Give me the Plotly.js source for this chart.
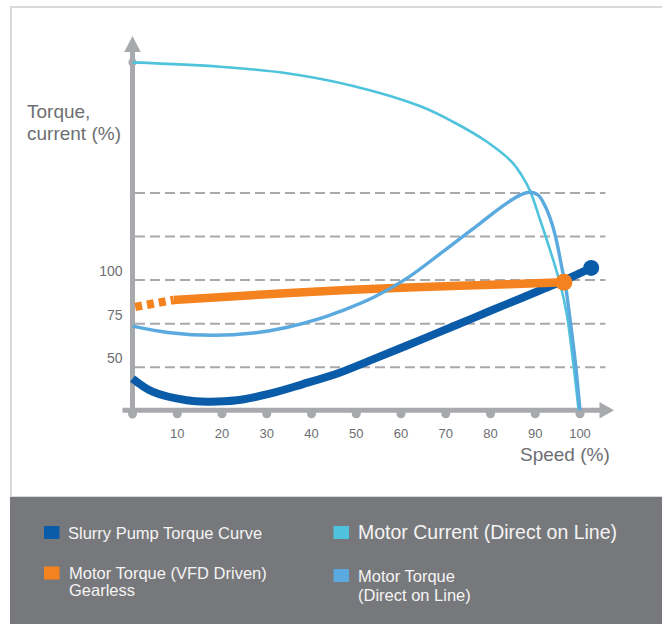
<!DOCTYPE html>
<html>
<head>
<meta charset="utf-8">
<script src="https://cdn.plot.ly/plotly-3.0.1.min.js"></script>
<style>
  html, body { margin: 0; padding: 0; background: #ffffff; }
  #chart { width: 662px; height: 624px; }
</style>
</head>
<body>
<div id="chart"></div>
<script>
// ---------------- DATA ----------------
const speedTicks = [10, 20, 30, 40, 50, 60, 70, 80, 90, 100];
const speedTickLabels = ['10', '20', '30', '40', '50', '60', '70', '80', '90', '100'];
const torqueTicks = [50, 75, 100];
const torqueTickLabels = ['50', '75', '100'];
const gridLevels = [50, 75, 100, 125, 150];
const axisDotSpeeds = [0, 10, 20, 30, 40, 50, 60, 70, 80, 90, 100];

// Slurry Pump Torque Curve
const slurrySpeed = [0, 4.6, 12.1, 16.6, 23.3, 30.7, 38.1, 46.4, 53.7, 61.2, 68.7, 76.1, 83.6, 91.0, 96.1, 102.5];
const slurryTorque = [43.5, 35.8, 31.0, 30.2, 31.0, 34.8, 40.3, 47.0, 54.5, 62.3, 70.3, 78.2, 86.2, 94.0, 99.4, 107.0];

// Motor Torque (VFD Driven) Gearless
const vfdStartSpeed = [0.6, 9.2];
const vfdStartTorque = [84.6, 88.6];
const vfdSpeed = [9.2, 36.1, 60.0, 84.0, 96.4];
const vfdTorque = [88.6, 92.8, 95.6, 97.6, 98.7];

// Motor Current (Direct on Line)
const currentSpeed = [0, 19.6, 34.5, 49.3, 64.2, 71.6, 79.2, 85.0, 87.0, 88.8, 91.1, 93.3, 95.5, 97.0, 98.4, 99.7];
const currentValue = [225.0, 222.5, 218.7, 211.4, 199.9, 190.9, 179.4, 167.2, 160.0, 151.5, 134.5, 117.3, 98.5, 81.1, 54.2, 25.3];

// Motor Torque (Direct on Line)
const dolSpeed = [0, 8.4, 18.0, 27.0, 34.4, 42.0, 46.4, 53.8, 61.3, 68.7, 77.7, 83.0, 86.6, 88.8, 90.7, 92.2, 93.7, 94.8, 95.9, 96.9, 97.6, 98.9, 100];
const dolTorque = [73.6, 69.8, 68.3, 69.6, 72.8, 78.0, 82.0, 90.0, 101.0, 115.0, 132.6, 143.0, 148.8, 150.4, 148.7, 142.5, 132.6, 122.0, 107.7, 94.3, 81.0, 54.2, 25.3];

const seriesNames = ['Slurry Pump Torque Curve', 'Motor Current (Direct on Line)', 'Motor Torque (VFD Driven)|Gearless', 'Motor Torque|(Direct on Line)'];
const seriesColors = ['#0a5ca8', '#4fc3dc', '#f4821f', '#5aa9df'];

// ---------------- LAYOUT GEOMETRY ----------------
const W = 662, H = 624;
const M = { l: 115, r: 28, t: 30, b: 194 };
const PW = W - M.l - M.r, PH = H - M.t - M.b;
const X0PX = 132.5, XPPU = 4.475;      // pixel of speed 0, pixels per unit
const Y0PX = 454.3, YPPU = 1.742;      // pixel of value 0, pixels per unit
const xRange = [(M.l - X0PX) / XPPU, (W - M.r - X0PX) / XPPU];
const yRange = [(Y0PX - (H - M.b)) / YPPU, (Y0PX - M.t) / YPPU];
const axisY = 25.3;                    // where the speed axis crosses
const px2u = p => p / XPPU, py2u = p => p / YPPU;
const paperX = px => (px - M.l) / PW;
const paperY = py => (M.t + PH - py) / PH;

const AX = '#a7a9ac', TXT = '#6d6e71';
const FONT = 'Liberation Sans, Arial, Helvetica, sans-serif';

// ---------------- TRACES ----------------
const traces = [];
traces.push({
  x: axisDotSpeeds, y: axisDotSpeeds.map(() => axisY - py2u(3.5)),
  mode: 'markers', marker: { size: 9, color: AX }, cliponaxis: false, hoverinfo: 'skip', showlegend: false
});
traces.push({
  x: [currentSpeed[0]], y: [currentValue[0]],
  mode: 'markers', marker: { size: 8, color: AX }, cliponaxis: false, hoverinfo: 'skip', showlegend: false
});
traces.push({
  x: slurrySpeed, y: slurryTorque, mode: 'lines', name: seriesNames[0],
  line: { color: seriesColors[0], width: 8, shape: 'spline', smoothing: 1 }, showlegend: false
});
traces.push({
  x: vfdStartSpeed, y: vfdStartTorque, mode: 'lines',
  line: { color: seriesColors[2], width: 8.5, dash: '7px,5px' }, showlegend: false
});
traces.push({
  x: vfdSpeed, y: vfdTorque, mode: 'lines', name: seriesNames[2],
  line: { color: seriesColors[2], width: 8.5, shape: 'spline', smoothing: 0.8 }, showlegend: false
});
traces.push({
  x: currentSpeed, y: currentValue, mode: 'lines', name: seriesNames[1],
  line: { color: seriesColors[1], width: 2.6, shape: 'spline', smoothing: 1 }, showlegend: false
});
traces.push({
  x: dolSpeed, y: dolTorque, mode: 'lines', name: seriesNames[3],
  line: { color: seriesColors[3], width: 3.4, shape: 'spline', smoothing: 1 }, showlegend: false
});
traces.push({
  x: [slurrySpeed[slurrySpeed.length - 1]], y: [slurryTorque[slurryTorque.length - 1]],
  mode: 'markers', marker: { size: 16, color: seriesColors[0] }, cliponaxis: false, showlegend: false, hoverinfo: 'skip'
});
traces.push({
  x: [vfdSpeed[vfdSpeed.length - 1]], y: [vfdTorque[vfdTorque.length - 1]],
  mode: 'markers', marker: { size: 17, color: seriesColors[2] }, cliponaxis: false, showlegend: false, hoverinfo: 'skip'
});

// ---------------- SHAPES ----------------
const shapes = [];
// outer light frame
shapes.push({ type: 'rect', xref: 'paper', yref: 'paper', x0: paperX(11), x1: paperX(672), y0: paperY(7), y1: paperY(497),
  line: { color: '#d9d9d9', width: 2 }, fillcolor: 'rgba(0,0,0,0)', layer: 'below' });
// legend box
shapes.push({ type: 'rect', xref: 'paper', yref: 'paper', x0: paperX(10), x1: paperX(668), y0: paperY(497), y1: paperY(630),
  line: { width: 0 }, fillcolor: '#77787b', layer: 'below' });
// dashed guide lines
gridLevels.forEach(v => shapes.push({ type: 'line', xref: 'x', yref: 'y', x0: px2u(2.5), x1: px2u(473), y0: v, y1: v,
  line: { color: AX, width: 2, dash: '10px,5px' }, layer: 'below' }));
// y axis + arrow
const yTip = py2u(Y0PX - 36), yBase = py2u(Y0PX - 52);
shapes.push({ type: 'line', xref: 'x', yref: 'y', x0: 0, x1: 0, y0: axisY - py2u(8), y1: yBase + 0.5,
  line: { color: AX, width: 5 }, layer: 'below' });
shapes.push({ type: 'path', xref: 'x', yref: 'y', layer: 'below', fillcolor: AX, line: { width: 0 },
  path: `M ${-px2u(8.3)} ${yBase} L 0 ${yTip} L ${px2u(8.3)} ${yBase} Z` });
// x axis + arrow
const xTip = px2u(614 - X0PX), xBase = px2u(599.5 - X0PX);
shapes.push({ type: 'line', xref: 'x', yref: 'y', x0: -px2u(10), x1: xBase + 0.3, y0: axisY, y1: axisY,
  line: { color: AX, width: 5 }, layer: 'below' });
shapes.push({ type: 'path', xref: 'x', yref: 'y', layer: 'below', fillcolor: AX, line: { width: 0 },
  path: `M ${xBase} ${axisY + py2u(8.3)} L ${xTip} ${axisY} L ${xBase} ${axisY - py2u(8.3)} Z` });

// legend squares
const legendBoxes = [ [44, 526], [333.5, 526], [44, 566.5], [333.5, 569] ];
legendBoxes.forEach((b, i) => shapes.push({ type: 'rect', xref: 'paper', yref: 'paper',
  x0: paperX(b[0]), x1: paperX(b[0] + 15.5), y0: paperY(b[1]), y1: paperY(b[1] + 13),
  fillcolor: seriesColors[i], line: { width: 0 } }));

// ---------------- ANNOTATIONS ----------------
const annotations = [];
const yTitleLines = ['Torque,', 'current (%)'];
const yTitlePy = [111, 133];
yTitleLines.forEach((t, i) => annotations.push({ text: t, xref: 'paper', yref: 'paper', x: paperX(25), y: paperY(yTitlePy[i]),
  xanchor: 'left', yanchor: 'middle', showarrow: false, font: { family: FONT, size: 19, color: TXT } }));
annotations.push({ text: 'Speed (%)', xref: 'paper', yref: 'paper', x: paperX(612), y: paperY(454),
  xanchor: 'right', yanchor: 'middle', showarrow: false, font: { family: FONT, size: 19, color: TXT } });

const legendText = [
  { x: 66, py: [532.5], size: 16.5 },
  { x: 356, py: [532], size: 19.5 },
  { x: 66.5, py: [572.5, 590], size: 16.5 },
  { x: 355.5, py: [576, 595], size: 16.5 }
];
legendText.forEach((lt, i) => {
  const lines = seriesNames[i].split('|');
  lines.forEach((ln, j) => annotations.push({ text: ln, xref: 'paper', yref: 'paper', x: paperX(lt.x), y: paperY(lt.py[j]),
    xanchor: 'left', yanchor: 'middle', showarrow: false, font: { family: FONT, size: lt.size, color: '#f4f4f4' } }));
});

const layout = {
  width: W, height: H, margin: M,
  paper_bgcolor: '#ffffff', plot_bgcolor: 'rgba(0,0,0,0)',
  showlegend: false,
  xaxis: {
    range: xRange, anchor: 'free', position: paperY(Y0PX - axisY * YPPU),
    tickvals: speedTicks, ticktext: speedTickLabels, ticks: '', showline: false, showgrid: false, zeroline: false,
    tickfont: { family: FONT, size: 13, color: TXT }, ticklabelstandoff: 14, fixedrange: true
  },
  yaxis: {
    range: yRange, anchor: 'free', position: paperX(X0PX),
    tickvals: torqueTicks, ticktext: torqueTickLabels, ticks: '', showline: false, showgrid: false, zeroline: false,
    tickfont: { family: FONT, size: 14, color: TXT }, ticklabelstandoff: 10, ticklabelshift: -9, fixedrange: true
  },
  shapes: shapes,
  annotations: annotations
};

Plotly.newPlot('chart', traces, layout, { displayModeBar: false, staticPlot: true });
</script>
</body>
</html>
